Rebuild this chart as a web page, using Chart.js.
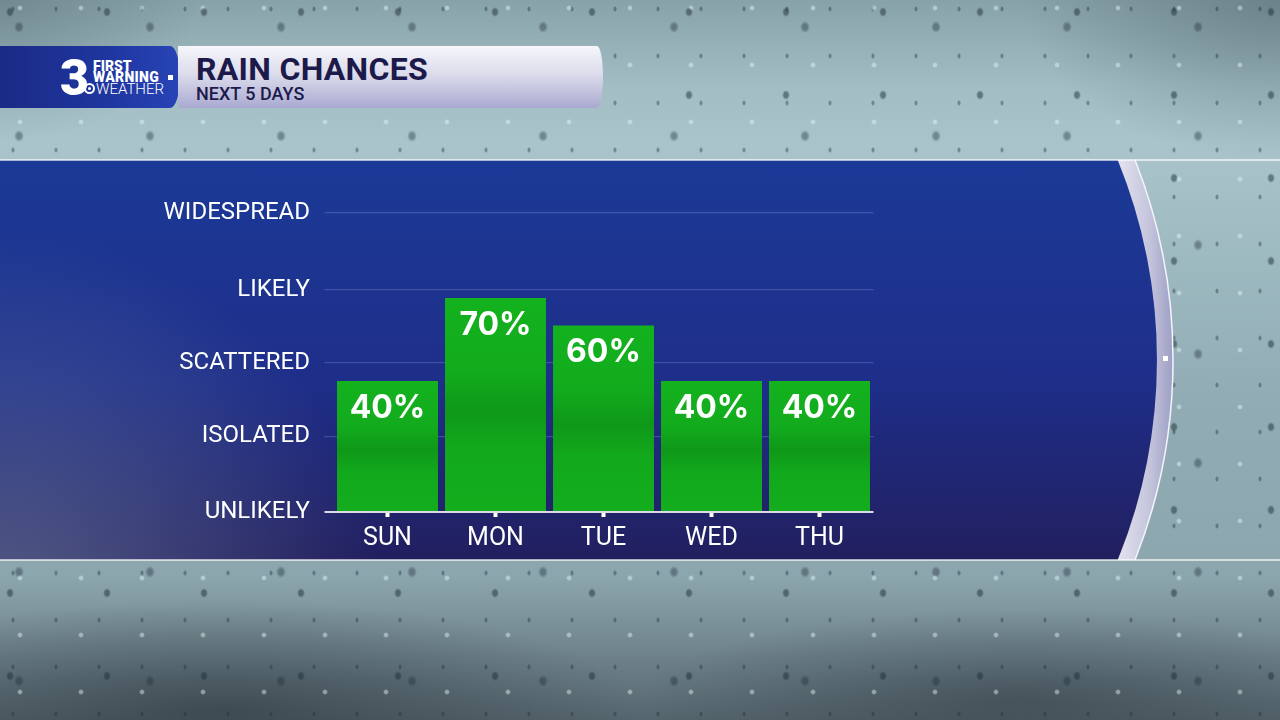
<!DOCTYPE html>
<html>
<head>
<meta charset="utf-8">
<script src="https://cdn.jsdelivr.net/npm/chart.js@4.4.1/dist/chart.umd.min.js"></script>
<style>
  html, body { margin: 0; padding: 0; width: 1280px; height: 720px; overflow: hidden; }
  body {
    position: relative;
    font-family: Roboto, "Noto Sans", sans-serif;
    background:
      radial-gradient(ellipse 4px 5px at 10px 12px, rgba(30,45,55,.5) 50%, transparent 100%) 0 0/97px 83px,
      radial-gradient(ellipse 3px 3px at 20px 8px, rgba(235,248,252,.45) 50%, transparent 100%) 0 0/61px 57px,
      radial-gradient(ellipse 5px 6px at 6px 20px, rgba(30,45,55,.4) 45%, transparent 100%) 13px 7px/131px 109px,
      radial-gradient(ellipse 2px 3px at 8px 6px, rgba(30,45,55,.4) 50%, transparent 100%) 5px 3px/43px 47px,
      radial-gradient(ellipse 420px 110px at 220px 710px, rgba(40,50,58,.55), transparent),
      radial-gradient(ellipse 380px 90px at 1020px 700px, rgba(40,50,58,.45), transparent),
      radial-gradient(ellipse 260px 160px at 1280px 0px, rgba(70,90,98,.45), transparent),
      radial-gradient(ellipse 200px 140px at 0px 0px, rgba(70,90,98,.35), transparent),
      linear-gradient(180deg, #88a2aa 0%, #a2bec4 12%, #a9c5cb 20%, #91acb4 55%, #8ca6ae 80%, #56656d 100%);
  }
  #panel { position: absolute; left: 0; top: 0; }
  #wrap { position: absolute; left: 0; top: 0; width: 1280px; height: 720px; }
  #logo {
    position: absolute; left: 0; top: 46px; width: 180px; height: 62px;
    background: linear-gradient(90deg, #1a2a86 0%, #1f36a0 60%, #2744b6 100%);
    border-radius: 0 10px 10px 0 / 0 31px 31px 0;
  }
  #banner {
    position: absolute; left: 178px; top: 46px; width: 425px; height: 62px;
    background: linear-gradient(180deg, #f6f6fb 0%, #dcdcec 45%, #a9a9d1 100%);
    border-radius: 0 6px 6px 0 / 0 31px 31px 0;
  }
  .t1 { position: absolute; left: 18px; top: 4px; font: 700 32px Roboto, sans-serif; color: #1c1a4b; letter-spacing: 0.3px; }
  .t2 { position: absolute; left: 18px; top: 37px; font: 500 18px Roboto, sans-serif; color: #1c1a4b; }
  .three { position: absolute; left: 60px; top: 2px; font: 900 50px Roboto, sans-serif; color: #fff; line-height: 60px; }
  .fw1, .fw2 { position: absolute; left: 93px; font: 900 14px Roboto, sans-serif; color: #fff; line-height: 13px; }
  .fw1 { top: 14px; }
  .fw2 { top: 25px; letter-spacing: 0.3px; }
  .wx { position: absolute; left: 96px; top: 36px; font: 300 15px Roboto, sans-serif; color: #fff; line-height: 15px; }
  .eye { position: absolute; left: 84px; top: 37px; width: 7px; height: 7px; border: 2px solid #fff; border-radius: 50%; }
  .eye:after { content: ""; position: absolute; left: 2px; top: 2px; width: 3px; height: 3px; background: #fff; border-radius: 50%; }
  .sq { position: absolute; left: 168px; top: 29px; width: 5px; height: 5px; background: #fff; }
</style>
</head>
<body>
<svg id="panel" width="1280" height="720">
  <defs>
    <linearGradient id="blue" x1="0" y1="160" x2="0" y2="560" gradientUnits="userSpaceOnUse">
      <stop offset="0" stop-color="#1b3a97"/>
      <stop offset="0.55" stop-color="#1e2e89"/>
      <stop offset="1" stop-color="#221f5f"/>
    </linearGradient>
    <radialGradient id="haze" cx="0" cy="610" r="380" gradientUnits="userSpaceOnUse">
      <stop offset="0" stop-color="#8fa3b4" stop-opacity="0.45"/>
      <stop offset="1" stop-color="#8fa3b4" stop-opacity="0"/>
    </radialGradient>
    <linearGradient id="rim" x1="1112" y1="0" x2="1175" y2="0" gradientUnits="userSpaceOnUse">
      <stop offset="0" stop-color="#e8e8f2"/>
      <stop offset="0.6" stop-color="#c4c4dc"/>
      <stop offset="1" stop-color="#9a9cc3"/>
    </linearGradient>
  </defs>
  <path d="M0 160 H1135 A545 545 0 0 1 1135 560 H0 Z" fill="url(#rim)"/>
  <path d="M1135 160 A545 545 0 0 1 1135 560" fill="none" stroke="#f4f4fa" stroke-width="1.5"/>
  <path d="M0 160 H1117.7 A529 529 0 0 1 1117.7 560 H0 Z" fill="url(#blue)"/>
  <path d="M0 160 H1117.7 A529 529 0 0 1 1117.7 560 H0 Z" fill="url(#haze)"/>
  <line x1="0" y1="160" x2="1280" y2="160" stroke="rgba(255,255,255,0.85)" stroke-width="1.5"/>
  <line x1="0" y1="560" x2="1280" y2="560" stroke="rgba(255,255,255,0.85)" stroke-width="1.5"/>
  <rect x="1163" y="356" width="5" height="5" fill="#fff"/>
</svg>

<div id="logo">
  <span class="three">3</span>
  <div class="fw1">FIRST</div>
  <div class="fw2">WARNING</div>
  <div class="eye"></div>
  <div class="wx">WEATHER</div>
  <div class="sq"></div>
</div>
<div id="banner">
  <div class="t1">RAIN CHANCES</div>
  <div class="t2">NEXT 5 DAYS</div>
</div>

<div id="wrap"><canvas id="rainChart" width="1280" height="720"></canvas></div>

<script>
const days = ['SUN', 'MON', 'TUE', 'WED', 'THU'];
const rainChance = [40, 70, 60, 40, 40];
const levelLabels = ['UNLIKELY', 'ISOLATED', 'SCATTERED', 'LIKELY', 'WIDESPREAD'];
const levelValues = [-7.4, 20, 46.5, 73, 100.7];

document.addEventListener('DOMContentLoaded', () => {

    // percent text near the top of each bar
    const valueLabels = {
        id: 'valueLabels',
        afterDatasetsDraw(chart) {
            const ctx = chart.ctx;
            ctx.save();
            ctx.fillStyle = '#ffffff';
            ctx.font = '700 32px Inter';
            ctx.textAlign = 'center';
            ctx.textBaseline = 'middle';
            chart.getDatasetMeta(0).data.forEach((bar, i) => {
                ctx.fillText(rainChance[i] + '%', bar.x, bar.y + 27);
            });
            ctx.restore();
        }
    };

    const ctx = document.getElementById('rainChart').getContext('2d');

    new Chart(ctx, {
        type: 'bar',
        data: {
            labels: days,
            datasets: [{
                data: rainChance,
                base: levelValues[0],
                barPercentage: 0.935,
                categoryPercentage: 1,
                borderWidth: 0,
                backgroundColor(c) {
                    const chart = c.chart;
                    if (!chart.chartArea) return '#12ab1d';
                    const y = chart.scales.y;
                    const top = y.getPixelForValue(c.raw);
                    const bottom = y.getPixelForValue(levelValues[0]);
                    const g = chart.ctx.createLinearGradient(0, top, 0, bottom);
                    g.addColorStop(0, '#14b21f');
                    g.addColorStop(0.35, '#12ab1d');
                    g.addColorStop(0.53, '#0f9819');
                    g.addColorStop(0.7, '#12a91c');
                    g.addColorStop(1, '#13ad1e');
                    return g;
                }
            }]
        },
        options: {
            responsive: false,
            animation: false,
            layout: { padding: { left: 0, top: 213, right: 406.5, bottom: 148 } },
            plugins: {
                legend: { display: false },
                tooltip: { enabled: false }
            },
            scales: {
                x: {
                    afterFit(s) { s.height = 60; },
                    border: { display: false },
                    grid: {
                        display: true,
                        drawOnChartArea: false,
                        offset: false,
                        tickLength: 5,
                        tickWidth: 4,
                        tickColor: '#ffffff',
                        color: 'rgba(0,0,0,0)'
                    },
                    ticks: {
                        color: '#ffffff',
                        font: { family: 'Roboto', size: 25 },
                        padding: 7
                    }
                },
                y: {
                    min: levelValues[0],
                    max: levelValues[4],
                    afterBuildTicks(s) { s.ticks = levelValues.map(v => ({ value: v })); },
                    afterFit(s) { s.width = 333.5; },
                    border: { display: false },
                    grid: {
                        drawTicks: true,
                        tickLength: 9,
                        color(c) { return c.index === 0 ? '#dcdce8' : 'rgba(150,170,235,0.28)'; },
                        lineWidth(c) { return c.index === 0 ? 2 : 1.2; }
                    },
                    ticks: {
                        autoSkip: false,
                        color: '#ffffff',
                        font: { family: 'Roboto', size: 24 },
                        padding: 14.5,
                        callback(v, i) { return levelLabels[i]; }
                    }
                }
            }
        },
        plugins: [valueLabels]
    });
});
</script>
</body>
</html>
